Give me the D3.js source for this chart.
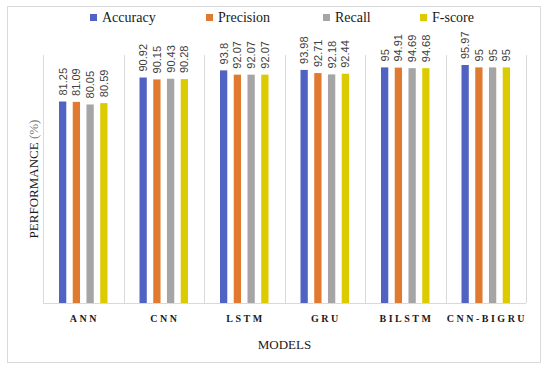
<!doctype html>
<html>
<head>
<meta charset="utf-8"/>
<style>
body{margin:0;background:#fff;}
</style>
<script src="https://d3js.org/d3.v7.min.js"></script>
</head>
<body>
<script>
// data
var models = ["ANN", "CNN", "LSTM", "GRU", "BILSTM", "CNN-BIGRU"];
var metrics = ["Accuracy", "Precision", "Recall", "F-score"];
var accuracy  = [81.25, 90.92, 93.8, 93.98, 95, 95.97];
var precision = [81.09, 90.15, 92.07, 92.71, 94.91, 95];
var recall    = [80.05, 90.43, 92.07, 92.18, 94.69, 95];
var fscore    = [80.59, 90.28, 92.07, 92.44, 94.68, 95];
var colors = ["#5062c2", "#e07a30", "#a5a5a5", "#dccb00"];

var series = [accuracy, precision, recall, fscore];

var W = 550, H = 369;
var svg = d3.select("body").append("svg")
  .attr("width", W).attr("height", H);

// outer frame
svg.append("rect")
  .attr("x", 7.5).attr("y", 6.5)
  .attr("width", 533).attr("height", 356)
  .attr("fill", "#fff").attr("stroke", "#d9d9d9");

var pL = 43, pR = 526, pT = 55, pB = 303;

var x = d3.scaleBand().domain(models).range([pL, pR]).padding(0);
var xs = d3.scaleBand().domain(metrics)
  .range([16, x.bandwidth() - 16]).paddingInner(0.47);
var y = d3.scaleLinear().domain([0, 100]).range([pB, pT]);

// category separators
var seps = d3.range(models.length + 1).map(function(i){ return pL + i * x.step(); });
svg.selectAll(".sep").data(seps).enter().append("line")
  .attr("x1", function(d){ return Math.round(d) + 0.5; })
  .attr("x2", function(d){ return Math.round(d) + 0.5; })
  .attr("y1", pT).attr("y2", pB)
  .attr("stroke", "#d9d9d9");

// bars
var flat = [];
models.forEach(function(m, i){
  metrics.forEach(function(k, j){
    flat.push({model: m, metric: k, v: series[j][i], c: colors[j]});
  });
});

svg.selectAll(".bar").data(flat).enter().append("rect")
  .attr("x", function(d){ return x(d.model) + xs(d.metric); })
  .attr("y", function(d){ return y(d.v); })
  .attr("width", xs.bandwidth())
  .attr("height", function(d){ return pB - y(d.v); })
  .attr("fill", function(d){ return d.c; });

// value labels
svg.selectAll(".lbl").data(flat).enter().append("text")
  .attr("transform", function(d){
    var cx = x(d.model) + xs(d.metric) + xs.bandwidth() / 2 + 4;
    return "translate(" + cx + "," + (y(d.v) - 6) + ") rotate(-90)";
  })
  .attr("font-family", "Liberation Sans, Arial, sans-serif")
  .attr("font-size", 11)
  .attr("fill", "#404040")
  .text(function(d){ return d.v; });

// x axis line
svg.append("line")
  .attr("x1", pL).attr("x2", pR)
  .attr("y1", pB + 0.5).attr("y2", pB + 0.5)
  .attr("stroke", "#d9d9d9");

// category labels
svg.selectAll(".cat").data(models).enter().append("text")
  .attr("x", function(d){ return x(d) + x.bandwidth() / 2 + 1.2; })
  .attr("y", 322)
  .attr("text-anchor", "middle")
  .attr("font-family", "Liberation Serif, Times New Roman, serif")
  .attr("font-weight", "bold")
  .attr("font-size", 10)
  .attr("letter-spacing", 2.5)
  .attr("fill", "#1a1a1a")
  .text(function(d){ return d; });

// axis titles
svg.append("text")
  .attr("x", (pL + pR) / 2).attr("y", 349)
  .attr("text-anchor", "middle")
  .attr("font-family", "Liberation Serif, Times New Roman, serif")
  .attr("font-size", 13)
  .attr("fill", "#1a1a1a")
  .text("MODELS");

var yt = svg.append("text")
  .attr("transform", "translate(38," + ((pT + pB) / 2) + ") rotate(-90)")
  .attr("text-anchor", "middle")
  .attr("font-family", "Liberation Serif, Times New Roman, serif")
  .attr("font-size", 13)
  .attr("fill", "#1a1a1a");
yt.append("tspan").text("PERFORMANCE ");
yt.append("tspan").attr("fill", "#808080").text("(%)");

// legend
var legX = [90, 206, 323, 420];
var leg = svg.selectAll(".leg").data(metrics).enter().append("g")
  .attr("transform", function(d, i){ return "translate(" + legX[i] + ",14)"; });
leg.append("rect").attr("width", 7).attr("height", 7)
  .attr("fill", function(d, i){ return colors[i]; });
leg.append("text").attr("x", 12).attr("y", 8)
  .attr("font-family", "Liberation Serif, Times New Roman, serif")
  .attr("font-size", 14)
  .attr("fill", "#1a1a1a")
  .text(function(d){ return d; });
</script>
</body>
</html>
